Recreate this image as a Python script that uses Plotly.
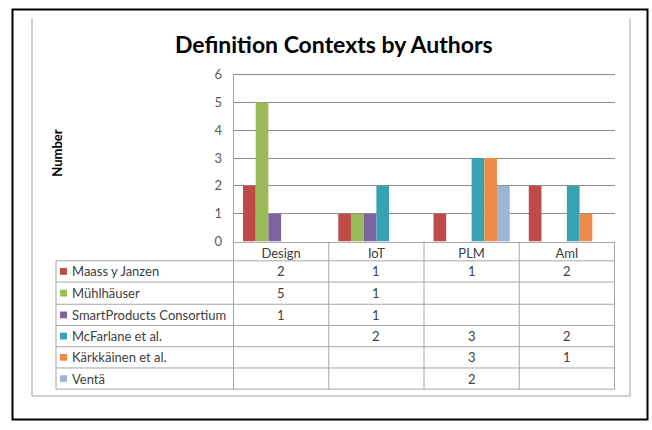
import plotly.graph_objects as go

categories = ["Design", "IoT", "PLM", "AmI"]
series_names = ["Maass y Janzen", "Mühlhäuser", "SmartProducts Consortium",
                "McFarlane et al.", "Kärkkäinen et al.", "Ventä"]
maass = [2, 1, 1, 2]
muhlhauser = [5, 1, None, None]
smartproducts = [1, 1, None, None]
mcfarlane = [None, 2, 3, 2]
karkkainen = [None, None, 3, 1]
venta = [None, None, 2, None]
series_values = [maass, muhlhauser, smartproducts, mcfarlane, karkkainen, venta]
colors = ["#BE4B48", "#9BBB59", "#7D64A0", "#36A2B4", "#EE8A4A", "#9DB6D5"]
y_ticks = [0, 1, 2, 3, 4, 5, 6]

W, H = 652, 430
def px(x):
    return x / W
def py(y):
    return 1 - y / H

FONT = "Lato"
fig = go.Figure()
for name, vals, c in zip(series_names, series_values, colors):
    fig.add_trace(go.Bar(x=categories, y=vals, name=name, marker_color=c,
                         marker_line_width=0))

PLOT_L, PLOT_R, PLOT_T, PLOT_B = 233, 615, 70, 243
Y_MAX = 6.05
unit = (PLOT_B - PLOT_T) / 6.0
PLOT_T_DOM = PLOT_B - unit * Y_MAX
row_lines = [263, 285, 308, 330, 352, 374, 396]
TABLE_L = 56
GRID = "#8C8C8C"

shapes = []
# outer black frame
shapes.append(dict(type="rect", xref="paper", yref="paper", x0=px(12.5), x1=px(647.5),
                   y0=py(427.5), y1=py(2.5), line=dict(color="black", width=2)))
# inner grey frame (left, right, bottom)
for (x0, y0, x1, y1) in [(32, 12, 32, 403), (630, 12, 630, 403), (32, 403, 630, 403)]:
    shapes.append(dict(type="line", xref="paper", yref="paper", x0=px(x0), x1=px(x1),
                       y0=py(y0), y1=py(y1), line=dict(color="#BFBFBF", width=1.5)))
# top gridline at the axis maximum tick
shapes.append(dict(type="line", xref="paper", yref="y", x0=px(PLOT_L), x1=px(PLOT_R),
                   y0=y_ticks[-1], y1=y_ticks[-1], line=dict(color=GRID, width=1)))
# table horizontal lines
for ry in row_lines:
    shapes.append(dict(type="line", xref="paper", yref="paper", x0=px(TABLE_L), x1=px(PLOT_R),
                       y0=py(ry), y1=py(ry), line=dict(color="#A6A6A6", width=1)))
# table left border
shapes.append(dict(type="line", xref="paper", yref="paper", x0=px(TABLE_L), x1=px(TABLE_L),
                   y0=py(row_lines[0]), y1=py(row_lines[-1]), line=dict(color="#A6A6A6", width=1)))
# vertical category dividers (first one is also the value axis line)
for i in range(len(categories) + 1):
    top = PLOT_T if i == 0 else PLOT_B
    shapes.append(dict(type="line", xref="x", yref="paper", x0=i - 0.5, x1=i - 0.5,
                       y0=py(top), y1=py(row_lines[-1]),
                       line=dict(color="#A6A6A6", width=1)))

annotations = []
row_centers = [(row_lines[k] + row_lines[k + 1]) / 2 for k in range(len(row_lines) - 1)]
for k, (name, vals, c) in enumerate(zip(series_names, series_values, colors)):
    yc = row_centers[k]
    shapes.append(dict(type="rect", xref="paper", yref="paper", x0=px(60), x1=px(67),
                       y0=py(yc + 3.5), y1=py(yc - 3.5), fillcolor=c, line=dict(width=0)))
    annotations.append(dict(x=px(70), y=py(yc), xref="paper", yref="paper", text=name,
                            showarrow=False, xanchor="left", yanchor="middle",
                            font=dict(family=FONT, size=13, color="#404040")))
    for j, v in enumerate(vals):
        if v is not None:
            annotations.append(dict(x=j, y=py(yc), xref="x", yref="paper", text=str(v),
                                    showarrow=False, xanchor="center", yanchor="middle",
                                    font=dict(family=FONT, size=13, color="#404040")))

annotations.append(dict(x=px(57), y=py(152), xref="paper", yref="paper", text="<b>Number</b>",
                        textangle=-90, showarrow=False, xanchor="center", yanchor="middle",
                        font=dict(family=FONT, size=13, color="#000000")))
annotations.append(dict(x=px(334), y=py(38), xref="paper", yref="paper",
                        text="<b>Definition Contexts by Authors</b>", showarrow=False,
                        xanchor="center", yanchor="middle",
                        font=dict(family=FONT, size=23, color="#000000")))

fig.update_layout(
    width=W, height=H, margin=dict(l=0, r=0, t=0, b=0),
    paper_bgcolor="white", plot_bgcolor="white",
    barmode="group", bargap=0.2, bargroupgap=0, showlegend=False,
    shapes=shapes, annotations=annotations,
    xaxis=dict(domain=[px(PLOT_L), px(PLOT_R)], showgrid=False, showline=True,
               linecolor="#A6A6A6", linewidth=1, ticks="", zeroline=False,
               tickfont=dict(family=FONT, size=13, color="#404040"), fixedrange=True),
    yaxis=dict(domain=[py(PLOT_B), py(PLOT_T_DOM)], range=[0, Y_MAX], tickvals=y_ticks,
               showgrid=True, gridcolor=GRID, gridwidth=1, zeroline=False,
               showline=False, ticks="", ticklabelstandoff=10,
               tickfont=dict(family=FONT, size=13, color="#595959"), fixedrange=True),
)
fig.write_html("out.html")
